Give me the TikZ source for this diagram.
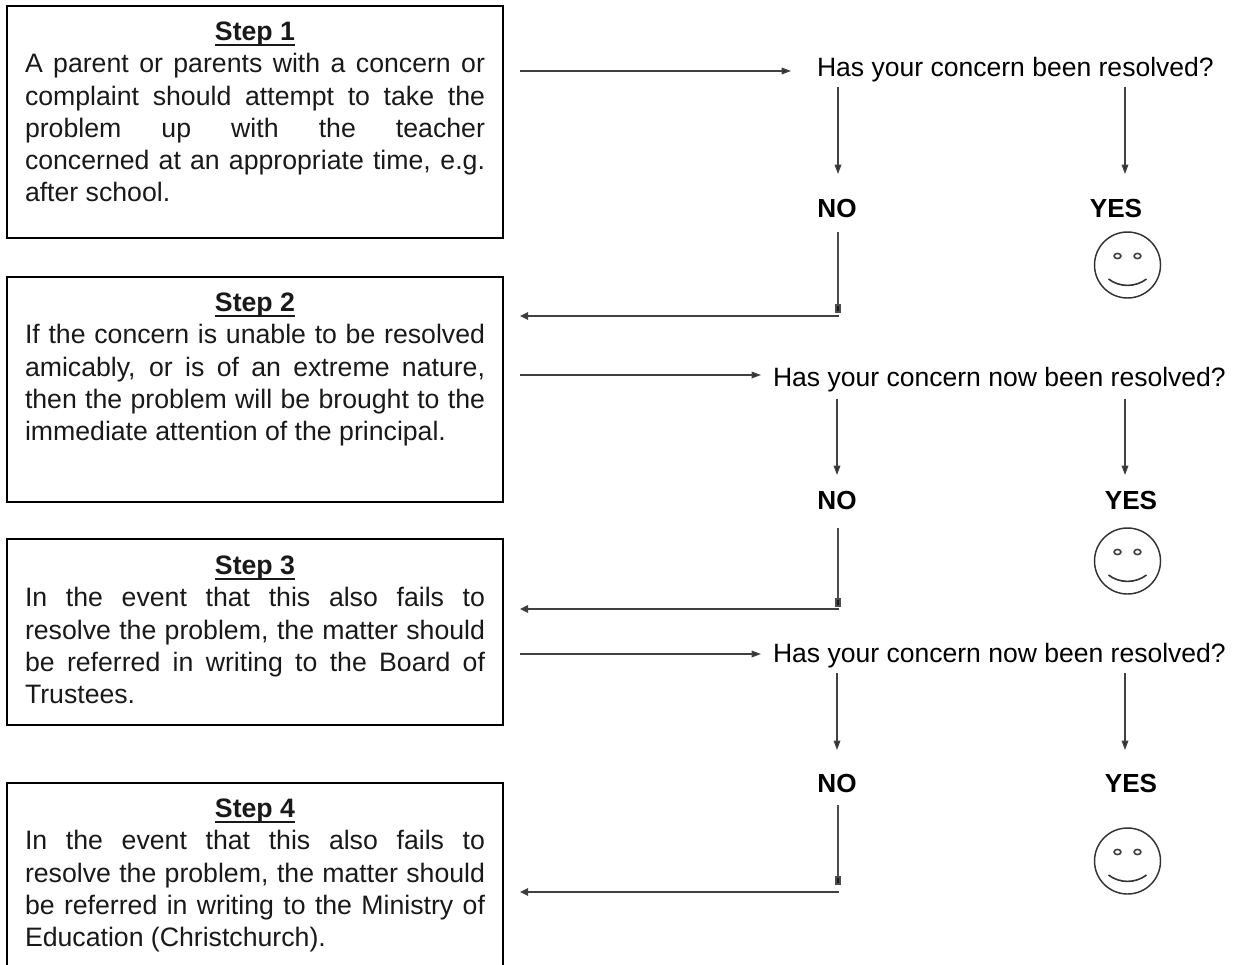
\documentclass[tikz,border=0pt]{standalone}
\usepackage{fontspec}
\setmainfont{Liberation Sans}
\usetikzlibrary{arrows.meta}
\newlength{\linew}
\setlength{\linew}{345pt}
\newcommand{\jl}[1]{\hbox to \linew{#1}}
\newcommand{\lastl}[1]{\hbox to \linew{#1\hfil}}
\newsavebox{\titlebox}
\newcommand{\steptitle}[1]{\hbox to \linew{\hfil\sbox{\titlebox}{\textbf{#1}}\rlap{\rule[-3.8pt]{\wd\titlebox}{1.5pt}}\usebox{\titlebox}\hfil}}
\tikzset{
  x=0.75pt,y=-0.75pt,
  boxsty/.style={draw=black,line width=1.3pt,minimum width=372pt,anchor=north west,inner sep=0pt,outer sep=0pt},
  boxtxt/.style={anchor=north,inner sep=0pt,outer sep=0pt,text=black!90,font=\fontsize{20pt}{24.2pt}\selectfont},
  ques/.style={inner sep=0pt,outer sep=0pt,font=\fontsize{19.9pt}{24pt}\selectfont},
  ans/.style={inner sep=0pt,outer sep=0pt,font=\fontsize{19.6pt}{24pt}\selectfont\bfseries},
  conn/.style={line width=0.9pt,draw=black!75,-{Triangle[length=7pt,width=5pt,fill=black!80]}},
  connh/.style={line width=1.4pt,draw=black!75,-{Triangle[length=6pt,width=5.5pt,fill=black!85]}},
  connv/.style={line width=1.4pt,draw=black!70,-{Rectangle[length=7pt,width=4.5pt,fill=black!90]}},
  face/.style={draw=black!80,line width=1.1pt,circle,minimum size=49.5pt,inner sep=0pt},
}
\newcommand{\smiley}[3]{%
  \node[face] (#1) at (#2,#3) {};
  \draw[black!75,line width=1.2pt] (#2-10,#3-9) ellipse[x radius=3.4,y radius=2.6];
  \draw[black!75,line width=1.2pt] (#2+10,#3-9) ellipse[x radius=3.4,y radius=2.6];
  \draw[black!80,line width=1.2pt] (#2-19,#3+14) .. controls (#2-8,#3+22.5) and (#2+8,#3+22.5) .. (#2+19,#3+14);
}
\begin{document}
\begin{tikzpicture}
\useasboundingbox (0,0) rectangle (1234,964);
% boxes
\node[boxsty,minimum height=174pt] (b1) at (7,6) {};
\node[boxsty,minimum height=169pt] (b2) at (7,277) {};
\node[boxsty,minimum height=139.5pt] (b3) at (7,539) {};
\node[boxsty,minimum height=150pt] (b4) at (7,783) {};
\node[boxtxt] (t1) at (255,22) {\vbox{\steptitle{Step 1}
 \jl{A parent or parents with a concern or}
 \jl{complaint should attempt to take the}
 \jl{problem up with the teacher}
 \jl{concerned at an appropriate time, e.g.}
 \lastl{after school.}}};
\node[boxtxt] (t2) at (255,293) {\vbox{\steptitle{Step 2}
 \jl{If the concern is unable to be resolved}
 \jl{amicably, or is of an extreme nature,}
 \jl{then the problem will be brought to the}
 \lastl{immediate attention of the principal.}}};
\node[boxtxt] (t3) at (255,556) {\vbox{\steptitle{Step 3}
 \jl{In the event that this also fails to}
 \jl{resolve the problem, the matter should}
 \jl{be referred in writing to the Board of}
 \lastl{Trustees.}}};
\node[boxtxt] (t4) at (255,799) {\vbox{\steptitle{Step 4}
 \jl{In the event that this also fails to}
 \jl{resolve the problem, the matter should}
 \jl{be referred in writing to the Ministry of}
 \lastl{Education (Christchurch).}}};
% questions
\node[ques,anchor=west] (q1) at (817,70) {Has your concern been resolved?};
\node[ques,anchor=west] (q2) at (773,380) {Has your concern now been resolved?};
\node[ques,anchor=west] (q3) at (773,656) {Has your concern now been resolved?};
\node[ans] (n1) at (837,208) {NO};
\node[ans] (y1) at (1116,208) {YES};
\node[ans] (n2) at (837,500) {NO};
\node[ans] (y2) at (1131,500) {YES};
\node[ans] (n3) at (837,783) {NO};
\node[ans] (y3) at (1131,783) {YES};
\smiley{f1}{1127.5}{265}
\smiley{f2}{1127.5}{561}
\smiley{f3}{1127.5}{861}
% free ends
\coordinate (a1s) at (520,71); \coordinate (a1e) at (791,71);
\coordinate (a2s) at (520,375); \coordinate (a2e) at (761,375);
\coordinate (a3s) at (520,654); \coordinate (a3e) at (761,654);
\draw[conn] (a1s) -- (a1e);
\draw[conn] (a2s) -- (a2e);
\draw[conn] (a3s) -- (a3e);
\foreach \xx/\ya/\yb in {838/87/174,1125/87/174,837/399/475,1125/399/475,837/673/750,1125/673/750}{
  \coordinate (p) at (\xx,\ya); \coordinate (q) at (\xx,\yb);
  \draw[conn] (p) -- (q);
}
\foreach \ya/\yb/\yc in {232/313/316,528/607/609,805/885/892}{
  \coordinate (p) at (838,\ya); \coordinate (q) at (838,\yb);
  \coordinate (r) at (839,\yc); \coordinate (s) at (520,\yc);
  \draw[connv] (p) -- (q);
  \draw[connh] (r) -- (s);
}
\end{tikzpicture}
\end{document}
